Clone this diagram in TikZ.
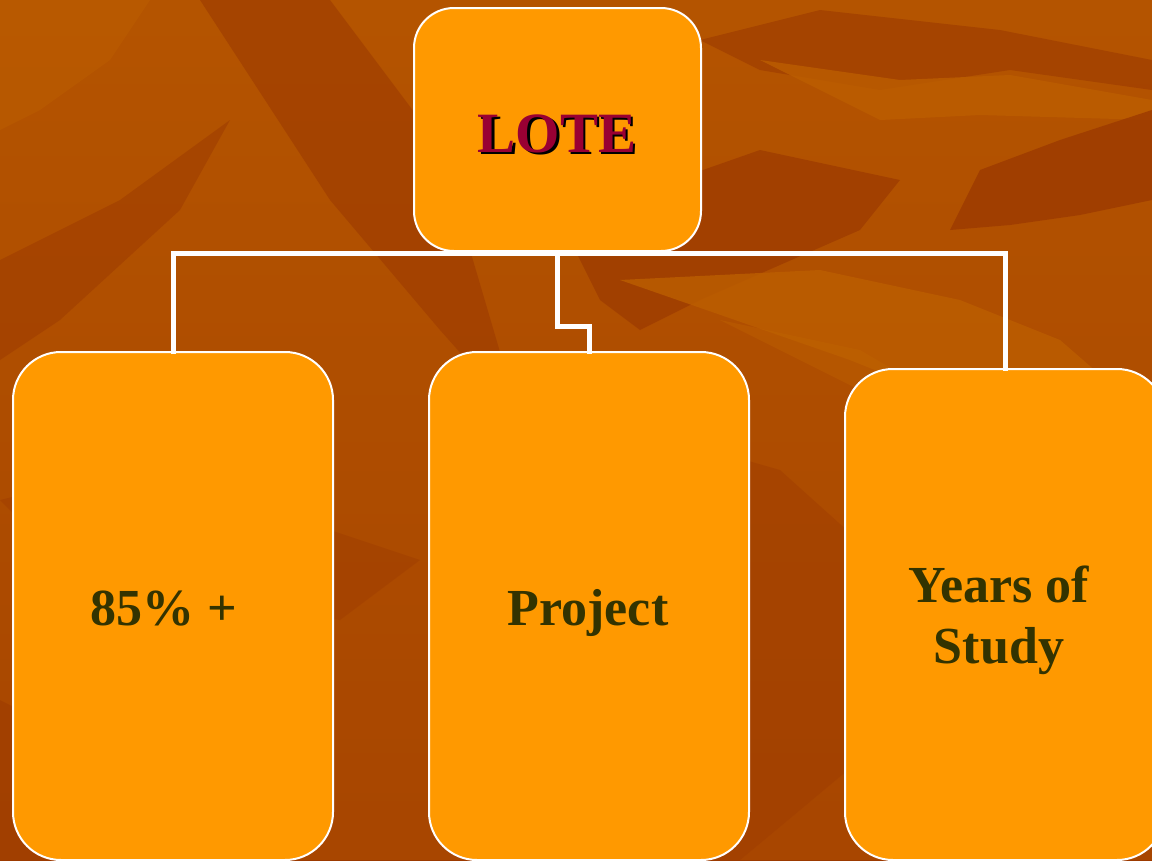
\documentclass[tikz,border=0pt]{standalone}
\usepackage{fontspec}
\setmainfont{Liberation Serif}
\begin{document}
\begin{tikzpicture}[x=1pt,y=-1pt,
  box/.style={draw=white, line width=2pt, fill=boxfill, rounded corners=48pt, anchor=north west, inner sep=0pt},
  conn/.style={draw=white, line width=5pt, line cap=rect},
  lbl/.style={text=labeltext, font=\bfseries\fontsize{52}{61}\selectfont, align=center, inner sep=0pt},
  leafdark/.style={fill=bgdark, draw=none},
  leaflight/.style={fill=bglight, draw=none}]
\definecolor{boxfill}{HTML}{FF9900}
\definecolor{labeltext}{HTML}{333300}
\definecolor{lotetext}{HTML}{990033}
\definecolor{bgbase}{HTML}{B04E00}
\definecolor{bgdark}{HTML}{9C3A00}
\definecolor{bglight}{HTML}{BC5E00}
\definecolor{bgleaf}{HTML}{C06400}
\useasboundingbox (0,0) rectangle (1152,860);
\clip (0,0) rectangle (1152,860);
% background
\shade[top color=bglight, bottom color=bgdark] (0,0) rectangle (1152,860);
\fill[bgbase, opacity=0.6] (0,0) rectangle (1152,860);
% leaf shapes
\fill[leafdark, opacity=0.6] (200,0) -- (330,0) -- (420,120) -- (470,250) -- (520,420) -- (440,330) -- (330,200) -- cycle;
\fill[leafdark, opacity=0.5] (0,260) -- (120,200) -- (230,120) -- (180,210) -- (60,320) -- (0,360) -- cycle;
\fill[leafdark, opacity=0.7] (560,220) -- (760,150) -- (900,180) -- (860,230) -- (700,300) -- (640,330) -- (600,300) -- cycle;
\fill[leaflight, opacity=0.8] (620,280) -- (820,270) -- (960,300) -- (1060,340) -- (1152,420) -- (1152,480) -- (1000,420) -- (850,360) -- cycle;
\fill[bgleaf, opacity=0.4] (720,320) -- (860,350) -- (980,420) -- (880,400) -- cycle;
\fill[leafdark, opacity=0.6] (700,40) -- (820,10) -- (1000,30) -- (1152,60) -- (1152,90) -- (1010,70) -- (880,90) -- (760,70) -- cycle;
\fill[leaflight, opacity=0.8] (760,60) -- (900,80) -- (1010,75) -- (1152,100) -- (1152,120) -- (980,115) -- (880,120) -- cycle;
\fill[leafdark, opacity=0.8] (950,230) -- (980,170) -- (1060,140) -- (1152,110) -- (1152,200) -- (1080,215) -- (1010,225) -- cycle;
\fill[leafdark, opacity=0.4] (0,500) -- (120,470) -- (300,520) -- (420,560) -- (340,620) -- (200,600) -- (60,560) -- cycle;
\fill[leafdark, opacity=0.4] (640,430) -- (780,470) -- (880,560) -- (860,760) -- (740,860) -- (640,860) -- cycle;
\fill[leafdark, opacity=0.5] (0,700) -- (120,760) -- (200,860) -- (0,860) -- cycle;
\fill[leaflight, opacity=0.5] (0,0) -- (150,0) -- (110,60) -- (40,110) -- (0,130) -- cycle;
% boxes
\node[box, minimum width=287pt, minimum height=243pt, rounded corners=40pt] (lote) at (413,7) {};
\node[box, minimum width=320pt, minimum height=508pt] (p85) at (12,351) {};
\node[box, minimum width=320pt, minimum height=508pt] (proj) at (428,351) {};
\node[box, minimum width=320pt, minimum height=491pt] (yrs) at (844,368) {};
% labels
\node[font=\bfseries\fontsize{57}{60}\selectfont, inner sep=0pt, anchor=base] (lotelabel) at (557,152)
  {\makebox[0pt][l]{\raisebox{-2.5pt}{\hspace{2.5pt}\textcolor{black}{LOTE}}}\textcolor{lotetext}{LOTE}};
\node[lbl, anchor=base] (t85) at (164,625) {85\% +};
\node[lbl, anchor=base] (tproj) at (588,625) {Project};
\node[lbl, anchor=base] (tyrs) at (999,663) {Years of\\Study};
% connectors
\coordinate (bar) at (0,253);
\coordinate (step) at (0,326);
\draw[conn] (p85.north) -- (p85.north |- bar) -- (yrs.north |- bar) -- (yrs.north);
\draw[conn] (lote.south) -- (lote.south |- step) -- (proj.north |- step) -- (proj.north);
\end{tikzpicture}
\end{document}
